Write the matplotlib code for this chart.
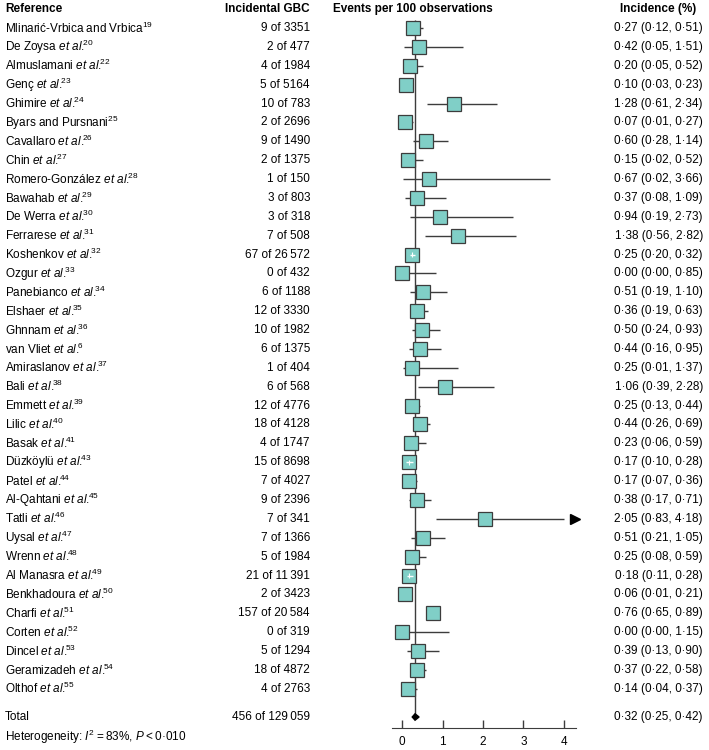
import numpy as np
import matplotlib.pyplot as plt
from matplotlib import transforms
from matplotlib.patches import Polygon

plt.rcParams['font.family'] = ['Liberation Sans', 'DejaVu Sans']
plt.rcParams['mathtext.fontset'] = 'custom'
plt.rcParams['mathtext.rm'] = 'Liberation Sans'
plt.rcParams['mathtext.it'] = 'Liberation Sans:italic'

#Study data
authors = ['Mlinarić-Vrbica and Vrbica', 'De Zoysa', 'Almuslamani', 'Genç', 'Ghimire',
           'Byars and Pursnani', 'Cavallaro', 'Chin', 'Romero-González', 'Bawahab',
           'De Werra', 'Ferrarese', 'Koshenkov', 'Ozgur', 'Panebianco', 'Elshaer',
           'Ghnnam', 'van Vliet', 'Amiraslanov', 'Bali', 'Emmett', 'Lilic', 'Basak',
           'Düzköylü', 'Patel', 'Al-Qahtani', 'Tatli', 'Uysal', 'Wrenn', 'Al Manasra',
           'Benkhadoura', 'Charfi', 'Corten', 'Dincel', 'Geramizadeh', 'Olthof']
etal = [False, True, True, True, True, False] + [True] * 30
refnum = [19, 20, 22, 23, 24, 25, 26, 27, 28, 29, 30, 31, 32, 33, 34, 35, 36, 6, 37, 38,
          39, 40, 41, 43, 44, 45, 46, 47, 48, 49, 50, 51, 52, 53, 54, 55]
events = [9, 2, 4, 5, 10, 2, 9, 2, 1, 3, 3, 7, 67, 0, 6, 12, 10, 6, 1, 6,
          12, 18, 4, 15, 7, 9, 7, 7, 5, 21, 2, 157, 0, 5, 18, 4]
totals = [3351, 477, 1984, 5164, 783, 2696, 1490, 1375, 150, 803, 318, 508, 26572, 432,
          1188, 3330, 1982, 1375, 404, 568, 4776, 4128, 1747, 8698, 4027, 2396, 341, 1366,
          1984, 11391, 3423, 20584, 319, 1294, 4872, 2763]
est = [0.27, 0.42, 0.20, 0.10, 1.28, 0.07, 0.60, 0.15, 0.67, 0.37, 0.94, 1.38, 0.25, 0.00,
       0.51, 0.36, 0.50, 0.44, 0.25, 1.06, 0.25, 0.44, 0.23, 0.17, 0.17, 0.38, 2.05, 0.51,
       0.25, 0.18, 0.06, 0.76, 0.00, 0.39, 0.37, 0.14]
lo = [0.12, 0.05, 0.05, 0.03, 0.61, 0.01, 0.28, 0.02, 0.02, 0.08, 0.19, 0.56, 0.20, 0.00,
      0.19, 0.19, 0.24, 0.16, 0.01, 0.39, 0.13, 0.26, 0.06, 0.10, 0.07, 0.17, 0.83, 0.21,
      0.08, 0.11, 0.01, 0.65, 0.00, 0.13, 0.22, 0.04]
hi = [0.51, 1.51, 0.52, 0.23, 2.34, 0.27, 1.14, 0.52, 3.66, 1.09, 2.73, 2.82, 0.32, 0.85,
      1.10, 0.63, 0.93, 0.95, 1.37, 2.28, 0.44, 0.69, 0.59, 0.28, 0.36, 0.71, 4.18, 1.05,
      0.59, 0.28, 0.21, 0.89, 1.15, 0.90, 0.58, 0.37]
white_ci = ['Koshenkov', 'Düzköylü', 'Al Manasra']   #CI drawn white inside the box

total_events = 456
total_n = 129059
pooled = [0.32, 0.25, 0.42]
heterogeneity = 'Heterogeneity: $\\mathit{I}^{\\mathrm{2}}$\u2009=\u200983%, $\\mathit{P}$\u2009<\u20090·010'

x_ticks = [0, 1, 2, 3, 4]
x_max = 4.0


def fmt_n(n):
    #thin space for 5+ digit numbers
    s = str(n)
    if len(s) >= 5:
        s = s[:-3] + '\u2009' + s[-3:]
    return s


def fmt_d(v):
    return ('%.2f' % v).replace('.', '·')


def ref_label(name, e, num):
    if e:
        return name + ' $\\mathit{et\\ al.}\\!\\!{}^{\\mathrm{%d}}$' % num
    return name + '$^{\\mathrm{%d}}$' % num


#Figure layout (pixels -> fractions)
W, H = 709, 750
row0, step = 28, 18.88
ax_bottom = 728
fig = plt.figure(figsize=(W / 100, H / 100), dpi=100)
ax = fig.add_axes([392 / W, (H - ax_bottom) / H, 184 / W, ax_bottom / H])
ax.set_xlim(-0.25, 4.3)
ax.set_ylim((ax_bottom - row0) / step, -row0 / step)

rows = np.arange(len(authors))
total_row = (717 - row0) / step
het_row = (737 - row0) / step
head_row = (9 - row0) / step

fs = 8.5
line_col = '#3c3c3c'
box_col = '#80cfc7'

#Vertical line at pooled estimate
ax.vlines(pooled[0], -0.4, total_row, color=line_col, lw=1, zorder=1)

#CIs
hi_clip = np.minimum(hi, x_max)
ax.hlines(rows, lo, hi_clip, color=line_col, lw=1, zorder=2)
for i in rows:
    if hi[i] > x_max:
        ax.plot(4.27, i, marker='>', color='black', ms=7, clip_on=False, zorder=3)

#Boxes
ax.plot(est, rows, ls='none', marker='s', ms=9.6, mfc=box_col, mec=line_col, mew=0.9, zorder=3)
for i in rows:
    if authors[i] in white_ci:
        ax.hlines(i, lo[i], hi[i], color='white', lw=1, zorder=4)
        ax.vlines(est[i], i - 0.12, i + 0.12, color='white', lw=0.8, zorder=4)

#Pooled diamond
dia = Polygon([[pooled[1], total_row], [pooled[0], total_row - 0.17],
               [pooled[2], total_row], [pooled[0], total_row + 0.17]],
              closed=True, color='black', zorder=4)
ax.add_patch(dia)

#Axis styling
for s in ['top', 'left', 'right']:
    ax.spines[s].set_visible(False)
ax.spines['bottom'].set_color(line_col)
ax.set_yticks([])
ax.set_xticks(x_ticks)
ax.tick_params(axis='x', direction='in', length=6, width=1, color=line_col, pad=6, labelsize=fs)
ax.patch.set_alpha(0)

#Text columns
tr = transforms.blended_transform_factory(fig.transFigure, ax.transData)
x_ref, x_cnt, x_inc = 5 / W, 310 / W, 703 / W

fig.text(x_ref, head_row, 'Reference', transform=tr, fontsize=fs, weight='bold', va='center')
fig.text(x_cnt, head_row, 'Incidental GBC', transform=tr, fontsize=fs, weight='bold', va='center', ha='right')
fig.text(333 / W, head_row, 'Events per 100 observations', transform=tr, fontsize=fs, weight='bold', va='center')
fig.text(658 / W, head_row, 'Incidence (%)', transform=tr, fontsize=fs, weight='bold', va='center', ha='center')

for i in rows:
    fig.text(x_ref, i, ref_label(authors[i], etal[i], refnum[i]), transform=tr, fontsize=fs, va='center')
    fig.text(x_cnt, i, '%d of %s' % (events[i], fmt_n(totals[i])), transform=tr, fontsize=fs,
             va='center', ha='right')
    fig.text(x_inc, i, '%s (%s, %s)' % (fmt_d(est[i]), fmt_d(lo[i]), fmt_d(hi[i])), transform=tr,
             fontsize=fs, va='center', ha='right')

fig.text(x_ref, total_row, 'Total', transform=tr, fontsize=fs, va='center')
fig.text(x_cnt, total_row, '%d of %s' % (total_events, fmt_n(total_n)), transform=tr, fontsize=fs,
         va='center', ha='right')
fig.text(x_inc, total_row, '%s (%s, %s)' % tuple(fmt_d(v) for v in pooled), transform=tr,
         fontsize=fs, va='center', ha='right')
fig.text(x_ref, het_row, heterogeneity, transform=tr, fontsize=fs, va='center')

fig.savefig('out.png', dpi=100)
